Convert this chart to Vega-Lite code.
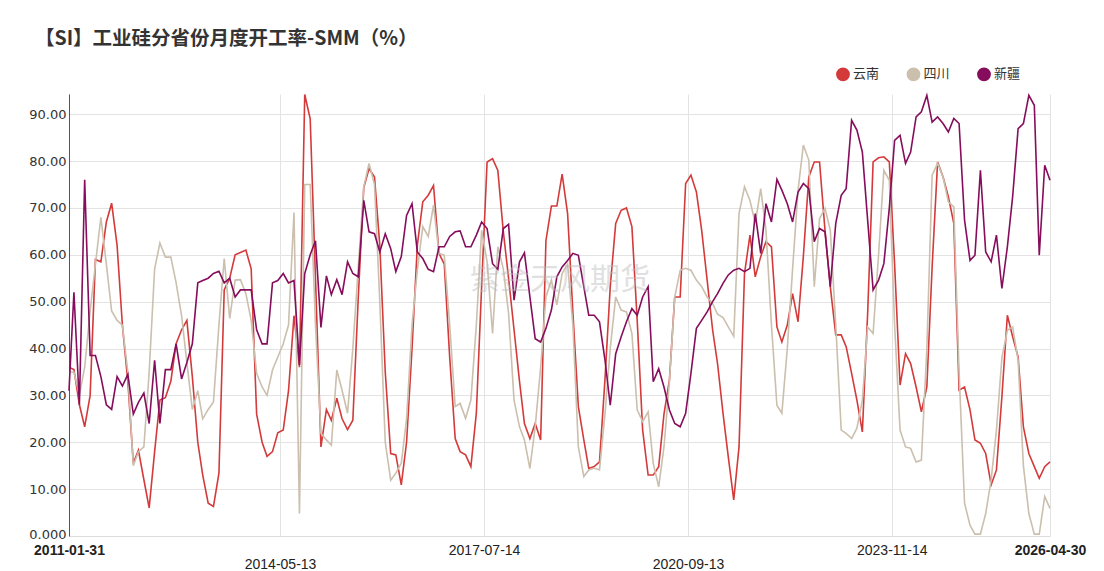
{
"$schema": "https://vega.github.io/schema/vega-lite/v6.json",
"width": 981, "height": 442,
"autosize": {"type": "none"},
"padding": {"left": 69, "top": 94, "right": 54, "bottom": 35},
"background": "white",
"title": {"text": "【SI】工业硅分省份月度开工率-SMM（%）", "anchor": "start", "frame": "group", "dx": -34, "offset": 18, "font": "Noto Sans CJK SC", "fontSize": 19.5, "fontWeight": "bold", "color": "#333333"},
"config": {"view": {"stroke": null}},
"layer": [
{
"data": {"values": [
{"d":"2011-01-31","云南":36,"四川":35,"新疆":31},
{"d":"2011-02-28","云南":35.5,"四川":35,"新疆":52},
{"d":"2011-03-31","云南":28,"四川":30,"新疆":28},
{"d":"2011-04-30","云南":23.3,"四川":36,"新疆":76},
{"d":"2011-05-31","云南":30,"四川":48,"新疆":38.5},
{"d":"2011-06-30","云南":59,"四川":58,"新疆":38.5},
{"d":"2011-07-31","云南":58.5,"四川":68,"新疆":34},
{"d":"2011-08-31","云南":67,"四川":58,"新疆":28},
{"d":"2011-09-30","云南":71,"四川":48,"新疆":27},
{"d":"2011-10-31","云南":62,"四川":46,"新疆":34},
{"d":"2011-11-30","云南":45,"四川":45,"新疆":32},
{"d":"2011-12-31","云南":33,"四川":35,"新疆":34.5},
{"d":"2012-01-31","云南":15.5,"四川":15,"新疆":26},
{"d":"2012-02-29","云南":18.3,"四川":18,"新疆":28.5},
{"d":"2012-03-31","云南":12,"四川":19,"新疆":30.5},
{"d":"2012-04-30","云南":6,"四川":35,"新疆":24},
{"d":"2012-05-31","云南":18,"四川":57,"新疆":37.5},
{"d":"2012-06-30","云南":29,"四川":62.5,"新疆":24},
{"d":"2012-07-31","云南":29.5,"四川":59.5,"新疆":35.5},
{"d":"2012-08-31","云南":33,"四川":59.5,"新疆":35.5},
{"d":"2012-09-30","云南":41,"四川":54,"新疆":41},
{"d":"2012-10-31","云南":44,"四川":47,"新疆":33.5},
{"d":"2012-11-30","云南":46,"四川":37,"新疆":37},
{"d":"2012-12-31","云南":34,"四川":27,"新疆":41},
{"d":"2013-01-31","云南":20,"四川":31,"新疆":54},
{"d":"2013-02-28","云南":13,"四川":25,"新疆":54.5},
{"d":"2013-03-31","云南":7,"四川":27,"新疆":55},
{"d":"2013-04-30","云南":6.3,"四川":28.6,"新疆":56},
{"d":"2013-05-31","云南":13.4,"四川":45,"新疆":56.5},
{"d":"2013-06-30","云南":52.5,"四川":59.2,"新疆":54},
{"d":"2013-07-31","云南":55,"四川":46.4,"新疆":55},
{"d":"2013-08-31","云南":60,"四川":54.6,"新疆":51},
{"d":"2013-09-30","云南":60.5,"四川":54.7,"新疆":52.5},
{"d":"2013-10-31","云南":61,"四川":51.7,"新疆":52.5},
{"d":"2013-11-30","云南":57,"四川":46,"新疆":52.5},
{"d":"2013-12-31","云南":26,"四川":34.7,"新疆":44},
{"d":"2014-01-31","云南":20,"四川":31.8,"新疆":41},
{"d":"2014-02-28","云南":17,"四川":30,"新疆":41},
{"d":"2014-03-31","云南":18,"四川":35.4,"新疆":54},
{"d":"2014-04-30","云南":22,"四川":38.2,"新疆":54.5},
{"d":"2014-05-31","云南":22.6,"四川":41,"新疆":56},
{"d":"2014-06-30","云南":31,"四川":45,"新疆":54},
{"d":"2014-07-31","云南":47,"四川":69,"新疆":54.5},
{"d":"2014-08-31","云南":36,"四川":4.8,"新疆":36.5},
{"d":"2014-09-30","云南":94.2,"四川":75,"新疆":56},
{"d":"2014-10-31","云南":89,"四川":75,"新疆":60},
{"d":"2014-11-30","云南":55,"四川":45,"新疆":63},
{"d":"2014-12-31","云南":19,"四川":21.9,"新疆":44.5},
{"d":"2015-01-31","云南":27,"四川":20.5,"新疆":55.5},
{"d":"2015-02-28","云南":24.7,"四川":19.4,"新疆":51.5},
{"d":"2015-03-31","云南":29.4,"四川":35.4,"新疆":54.7},
{"d":"2015-04-30","云南":25,"四川":31.1,"新疆":51.5},
{"d":"2015-05-31","云南":22.7,"四川":26.2,"新疆":58.5},
{"d":"2015-06-30","云南":24.7,"四川":40,"新疆":56},
{"d":"2015-07-31","云南":51,"四川":57.4,"新疆":55.3},
{"d":"2015-08-31","云南":74.3,"四川":74.5,"新疆":71.6},
{"d":"2015-09-30","云南":78.4,"四川":79.5,"新疆":64.9},
{"d":"2015-10-31","云南":76.6,"四川":75,"新疆":64.5},
{"d":"2015-11-30","云南":62,"四川":50,"新疆":60.6},
{"d":"2015-12-31","云南":35,"四川":20,"新疆":64.5},
{"d":"2016-01-31","云南":17.6,"四川":11.9,"新疆":61.3},
{"d":"2016-02-29","云南":17.3,"四川":13.4,"新疆":56.4},
{"d":"2016-03-31","云南":10.9,"四川":15.5,"新疆":59.6},
{"d":"2016-04-30","云南":20,"四川":25,"新疆":68.4},
{"d":"2016-05-31","云南":40,"四川":45,"新疆":70.9},
{"d":"2016-06-30","云南":62,"四川":56.7,"新疆":60.6},
{"d":"2016-07-31","云南":71.3,"四川":66,"新疆":59.2},
{"d":"2016-08-31","云南":72.7,"四川":63.9,"新疆":56.9},
{"d":"2016-09-30","云南":74.8,"四川":70.6,"新疆":56.4},
{"d":"2016-10-31","云南":60.3,"四川":60.3,"新疆":61.7},
{"d":"2016-11-30","云南":58,"四川":59.9,"新疆":61.7},
{"d":"2016-12-31","云南":38,"四川":45,"新疆":63.9},
{"d":"2017-01-31","云南":20.8,"四川":27.6,"新疆":64.9},
{"d":"2017-02-28","云南":18,"四川":28.3,"新疆":65.1},
{"d":"2017-03-31","云南":17.3,"四川":25.1,"新疆":61.7},
{"d":"2017-04-30","云南":14.8,"四川":29,"新疆":61.7},
{"d":"2017-05-31","云南":26.2,"四川":45,"新疆":64.2},
{"d":"2017-06-30","云南":53.2,"四川":65.2,"新疆":67},
{"d":"2017-07-31","云南":79.8,"四川":58.5,"新疆":65.6},
{"d":"2017-08-31","云南":80.5,"四川":43.2,"新疆":58.1},
{"d":"2017-09-30","云南":78,"四川":61.7,"新疆":56.9},
{"d":"2017-10-31","云南":65,"四川":57,"新疆":65.6},
{"d":"2017-11-30","云南":55,"四川":47.5,"新疆":66.5},
{"d":"2017-12-31","云南":44,"四川":29,"新疆":50.3},
{"d":"2018-01-31","云南":33,"四川":23.3,"新疆":58.5},
{"d":"2018-02-28","云南":24,"四川":20.5,"新疆":60.4},
{"d":"2018-03-31","云南":20.8,"四川":14.4,"新疆":51},
{"d":"2018-04-30","云南":24,"四川":23.3,"新疆":42.1},
{"d":"2018-05-31","云南":20.5,"四川":36,"新疆":41.4},
{"d":"2018-06-30","云南":63,"四川":51,"新疆":44.3},
{"d":"2018-07-31","云南":70.4,"四川":54.6,"新疆":48.2},
{"d":"2018-08-31","云南":70.4,"四川":49.3,"新疆":55.3},
{"d":"2018-09-30","云南":77.2,"四川":56,"新疆":57.4},
{"d":"2018-10-31","云南":68.8,"四川":58,"新疆":58.8},
{"d":"2018-11-30","云南":47.6,"四川":45,"新疆":60.3},
{"d":"2018-12-31","云南":27.6,"四川":19,"新疆":59.9},
{"d":"2019-01-31","云南":20.5,"四川":12.7,"新疆":53.2},
{"d":"2019-02-28","云南":14.4,"四川":14.1,"新疆":47.1},
{"d":"2019-03-31","云南":14.8,"四川":14.5,"新疆":47.1},
{"d":"2019-04-30","云南":15.8,"四川":14.1,"新疆":45.7},
{"d":"2019-05-31","云南":33.3,"四川":26,"新疆":37.6},
{"d":"2019-06-30","云南":53.2,"四川":40,"新疆":27.9},
{"d":"2019-07-31","云南":66.7,"四川":51,"新疆":38.9},
{"d":"2019-08-31","云南":69.5,"四川":48.2,"新疆":42.5},
{"d":"2019-09-30","云南":70,"四川":47.8,"新疆":45.7},
{"d":"2019-10-31","云南":66,"四川":43.2,"新疆":48.5},
{"d":"2019-11-30","云南":46,"四川":26.9,"新疆":47.1},
{"d":"2019-12-31","云南":22.6,"四川":24.4,"新疆":51},
{"d":"2020-01-31","云南":13,"四川":26.5,"新疆":53.2},
{"d":"2020-02-29","云南":13,"四川":15.5,"新疆":32.9},
{"d":"2020-03-31","云南":14.8,"四川":10.5,"新疆":35.7},
{"d":"2020-04-30","云南":26,"四川":19,"新疆":31.8},
{"d":"2020-05-31","云南":33.3,"四川":33,"新疆":26.9},
{"d":"2020-06-30","云南":51,"四川":51,"新疆":24},
{"d":"2020-07-31","云南":51,"四川":56.7,"新疆":23.3},
{"d":"2020-08-31","云南":75.2,"四川":57.1,"新疆":26.2},
{"d":"2020-09-30","云南":77,"四川":56.7,"新疆":34.7},
{"d":"2020-10-31","云南":73.4,"四川":54.6,"新疆":44.3},
{"d":"2020-11-30","云南":65.2,"四川":53.2,"新疆":46},
{"d":"2020-12-31","云南":54.6,"四川":51,"新疆":47.8},
{"d":"2021-01-31","云南":44,"四川":49.6,"新疆":50},
{"d":"2021-02-28","云南":36.8,"四川":47.3,"新疆":51.7},
{"d":"2021-03-31","云南":26.2,"四川":46.6,"新疆":53.9},
{"d":"2021-04-30","云南":16.9,"四川":44.6,"新疆":55.7},
{"d":"2021-05-31","云南":7.7,"四川":42.6,"新疆":56.7},
{"d":"2021-06-30","云南":19,"四川":68.8,"新疆":57.1},
{"d":"2021-07-31","云南":56,"四川":74.5,"新疆":56.4},
{"d":"2021-08-31","云南":64.2,"四川":71.6,"新疆":57.1},
{"d":"2021-09-30","云南":55.3,"四川":66.7,"新疆":68.8},
{"d":"2021-10-31","云南":59.6,"四川":74.1,"新疆":60.3},
{"d":"2021-11-30","云南":62.8,"四川":65.2,"新疆":70.9},
{"d":"2021-12-31","云南":61.7,"四川":45,"新疆":67},
{"d":"2022-01-31","云南":44.6,"四川":27.9,"新疆":76.1},
{"d":"2022-02-28","云南":41.4,"四川":26.2,"新疆":73.8},
{"d":"2022-03-31","云南":45,"四川":40,"新疆":70.9},
{"d":"2022-04-30","云南":51.7,"四川":57,"新疆":67},
{"d":"2022-05-31","云南":45.7,"四川":73.8,"新疆":73.4},
{"d":"2022-06-30","云南":59.6,"四川":83.4,"新疆":75.2},
{"d":"2022-07-31","云南":76.6,"四川":80.2,"新疆":74.1},
{"d":"2022-08-31","云南":79.8,"四川":53.2,"新疆":62.8},
{"d":"2022-09-30","云南":79.8,"四川":67.7,"新疆":65.6},
{"d":"2022-10-31","云南":65.2,"四川":69.9,"新疆":64.9},
{"d":"2022-11-30","云南":53.2,"四川":65.2,"新疆":53.2},
{"d":"2022-12-31","云南":42.9,"四川":45,"新疆":66.7},
{"d":"2023-01-31","云南":42.9,"四川":22.6,"新疆":72.7},
{"d":"2023-02-28","云南":40.4,"四川":21.9,"新疆":74.1},
{"d":"2023-03-31","云南":34.7,"四川":20.8,"新疆":88.7},
{"d":"2023-04-30","云南":29,"四川":23,"新疆":86.6},
{"d":"2023-05-31","云南":22.2,"四川":29,"新疆":81.9},
{"d":"2023-06-30","云南":47.5,"四川":44.6,"新疆":67.4},
{"d":"2023-07-31","云南":79.8,"四川":43.2,"新疆":52.5},
{"d":"2023-08-31","云南":80.7,"四川":60,"新疆":54.6},
{"d":"2023-09-30","云南":80.9,"四川":78,"新疆":58.1},
{"d":"2023-10-31","云南":79.8,"四川":75.9,"新疆":70},
{"d":"2023-11-30","云南":58,"四川":45,"新疆":84.4},
{"d":"2023-12-31","云南":32.2,"四川":22.6,"新疆":85.5},
{"d":"2024-01-31","云南":38.9,"四川":19,"新疆":79.5},
{"d":"2024-02-29","云南":36.8,"四川":18.7,"新疆":81.9},
{"d":"2024-03-31","云南":31.8,"四川":15.8,"新疆":89.4},
{"d":"2024-04-30","云南":26.5,"四川":16.2,"新疆":90.5},
{"d":"2024-05-31","云南":31.8,"四川":40,"新疆":94},
{"d":"2024-06-30","云南":57.4,"四川":77,"新疆":88.3},
{"d":"2024-07-31","云南":79.8,"四川":79.5,"新疆":89.4},
{"d":"2024-08-31","云南":76.6,"四川":76.6,"新疆":88},
{"d":"2024-09-30","云南":72.4,"四川":71.3,"新疆":86.2},
{"d":"2024-10-31","云南":66.7,"四川":70.2,"新疆":89.1},
{"d":"2024-11-30","云南":31.1,"四川":35,"新疆":88},
{"d":"2024-12-31","云南":31.8,"四川":7,"新疆":67.4},
{"d":"2025-01-31","云南":26.9,"四川":2.3,"新疆":58.8},
{"d":"2025-02-28","云南":20.5,"四川":0.4,"新疆":59.9},
{"d":"2025-03-31","云南":19.8,"四川":0.4,"新疆":78},
{"d":"2025-04-30","云南":17.6,"四川":4.8,"新疆":60.6},
{"d":"2025-05-31","云南":10.9,"四川":12,"新疆":58.5},
{"d":"2025-06-30","云南":14.1,"四川":22.6,"新疆":64.2},
{"d":"2025-07-31","云南":29.7,"四川":38,"新疆":52.8},
{"d":"2025-08-31","云南":47.1,"四川":43.9,"新疆":61.7},
{"d":"2025-09-30","云南":42.5,"四川":44.6,"新疆":72.4},
{"d":"2025-10-31","云南":38.2,"四川":37.5,"新疆":86.9},
{"d":"2025-11-30","云南":23.3,"四川":15,"新疆":88},
{"d":"2025-12-31","云南":17.6,"四川":4.8,"新疆":94},
{"d":"2026-01-31","云南":14.8,"四川":0.4,"新疆":91.9},
{"d":"2026-02-28","云南":12.3,"四川":0.4,"新疆":59.9},
{"d":"2026-03-31","云南":14.8,"四川":8.4,"新疆":79.1},
{"d":"2026-04-30","云南":15.8,"四川":5.9,"新疆":75.9}
]},
"transform": [{"fold": ["云南", "四川", "新疆"], "as": ["省份", "开工率"]}],
"mark": {"type": "line", "interpolate": "linear"},
"encoding": {
"x": {"field": "d", "type": "temporal",
 "scale": {"type": "utc", "domain": [{"year": 2011, "month": 1, "date": 31, "utc": true}, {"year": 2026, "month": 4, "date": 30, "utc": true}], "nice": false, "padding": 0},
 "axis": {"title": null,
  "values": [{"year": 2011, "month": 1, "date": 31, "utc": true}, {"year": 2014, "month": 5, "date": 13, "utc": true}, {"year": 2017, "month": 7, "date": 14, "utc": true}, {"year": 2020, "month": 9, "date": 13, "utc": true}, {"year": 2023, "month": 11, "date": 14, "utc": true}, {"year": 2026, "month": 4, "date": 30, "utc": true}],
  "labelExpr": "(utcFormat(datum.value, '%Y-%m-%d') == '2014-05-13' || utcFormat(datum.value, '%Y-%m-%d') == '2020-09-13') ? ['', utcFormat(datum.value, '%Y-%m-%d')] : utcFormat(datum.value, '%Y-%m-%d')",
  "labelFontWeight": {"condition": {"test": "utcyear(datum.value) == 2011 || utcyear(datum.value) == 2026", "value": "bold"}, "value": "normal"},
  "labelFont": "Liberation Sans", "labelFontSize": 14, "labelColor": "#222222",
  "labelBaseline": "top", "labelLineHeight": 14, "labelPadding": 7,
  "labelOverlap": false, "labelFlush": false, "labelBound": false,
  "grid": true, "gridColor": "#e3e3e3", "gridWidth": 1,
  "ticks": false, "domain": true, "domainColor": "#dddddd"}},
"y": {"field": "开工率", "type": "quantitative",
 "scale": {"domain": [0, 94.3], "nice": false, "zero": true},
 "axis": {"title": null, "values": [0, 10, 20, 30, 40, 50, 60, 70, 80, 90],
  "labelExpr": "datum.value == 0 ? '0.000' : format(datum.value, '.2f')",
  "labelOffset": {"condition": {"test": "datum.value == 0", "value": -2}, "value": 0},
  "labelFont": "DejaVu Sans", "labelFontSize": 13, "labelColor": "#333333", "labelPadding": 3,
  "grid": true, "gridColor": "#e3e3e3", "gridWidth": 1,
  "ticks": false, "domain": true, "domainColor": "#555555"}},
"color": {"field": "省份", "type": "nominal",
 "scale": {"domain": ["云南", "四川", "新疆"], "range": ["#d43a3a", "#cbbfae", "#850d5c"]},
 "legend": {"title": null, "orient": "none", "legendX": 767, "legendY": -27, "direction": "horizontal",
  "symbolType": "circle", "symbolSize": 150, "symbolStrokeWidth": 0, "symbolOpacity": 1,
  "labelFont": "Noto Sans CJK SC", "labelFontSize": 13, "labelColor": "#333333", "labelOffset": 3,
  "columnPadding": 23.5, "padding": 0,
  "encode": {"symbols": {"update": {"fill": {"scale": "color", "field": "value"}, "strokeWidth": {"value": 0}}}}}},
"strokeWidth": {"field": "省份", "type": "nominal", "scale": {"domain": ["云南", "四川", "新疆"], "range": [1.6, 1.6, 2]}, "legend": null}
}
},
{
"data": {"values": [{}]},
"mark": {"type": "text", "font": "Noto Sans CJK SC", "fontSize": 30, "color": "#bbbbbb", "opacity": 0.45},
"encoding": {
"x": {"datum": {"year": 2018, "month": 9, "date": 18, "utc": true}, "type": "temporal"},
"y": {"datum": 54.6, "type": "quantitative"},
"text": {"value": "紫金天风期货"}
}
}
]
}
